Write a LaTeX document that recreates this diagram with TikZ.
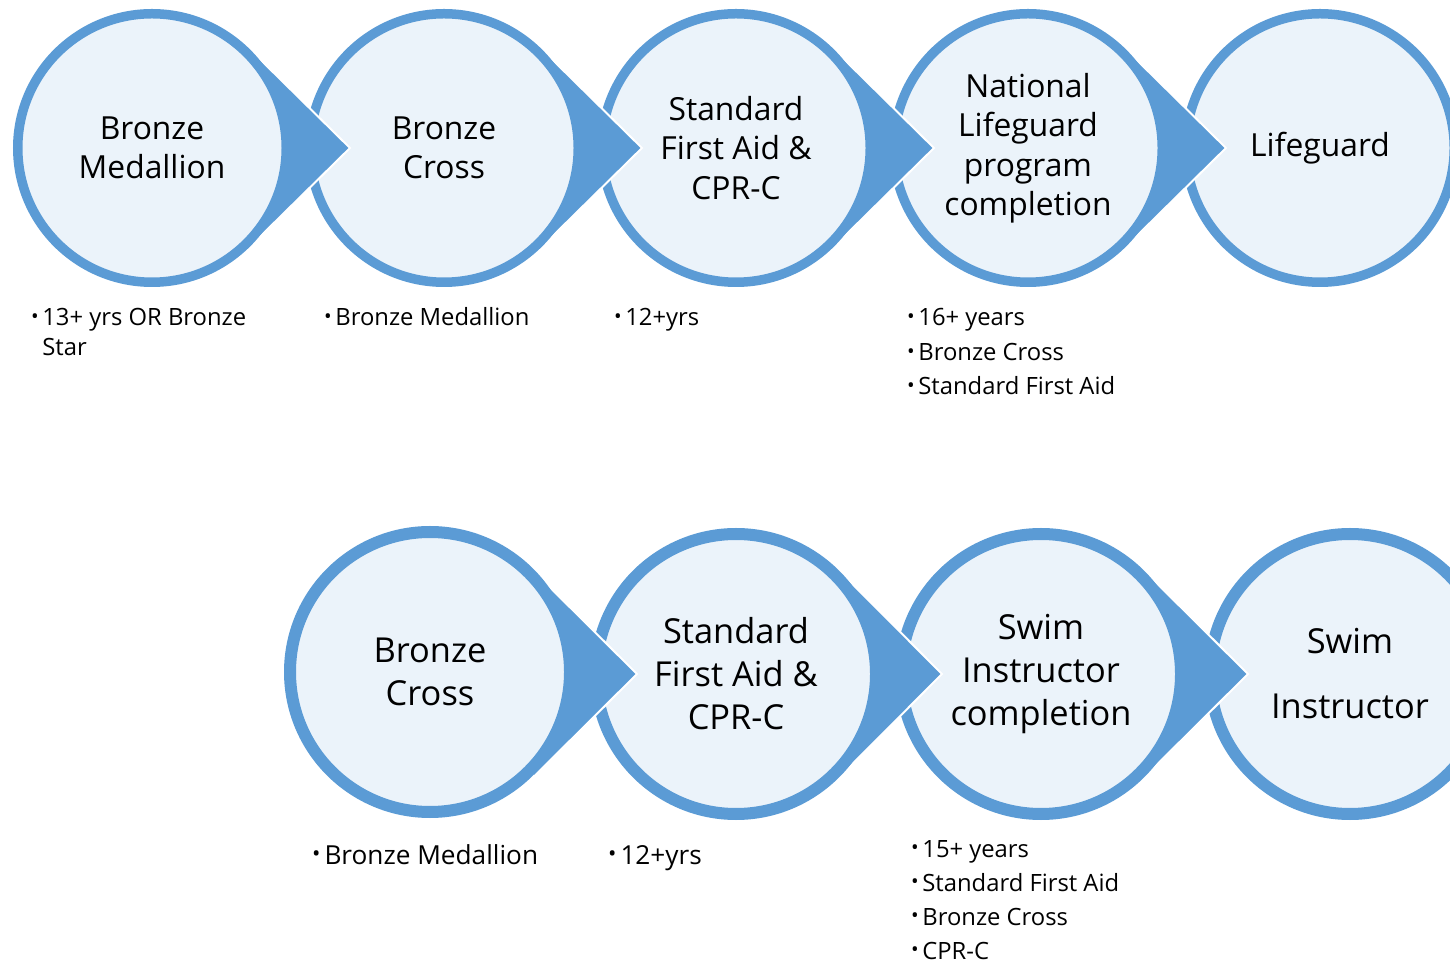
\documentclass[tikz,border=0pt]{standalone}
\usepackage{fontspec}
\setmainfont{Open Sans}
\definecolor{ringblue}{HTML}{5B9BD5}
\definecolor{ringfill}{HTML}{EBF3FA}
\newcommand{\bul}{\raisebox{0.1em}{\scalebox{0.85}{•}}\hspace{0.15em}}
\tikzset{
  ring/.style={circle, draw=ringblue, fill=ringfill, line width=9.5pt,
    minimum size=268.5pt, inner sep=0pt, align=center,
    font=\fontsize{31.8}{39.5}\selectfont},
  bigring/.style={ring, line width=12pt, minimum size=280pt,
    font=\fontsize{34.4}{43}\selectfont},
  point/.style={fill=ringblue, draw=white, line width=2pt},
  item/.style={anchor=base west, inner sep=0pt, font=\fontsize{23.8}{34}\selectfont},
  bigitem/.style={item, font=\fontsize{26.2}{34}\selectfont}
}

\begin{document}
\begin{tikzpicture}[x=1pt,y=1pt]
    \useasboundingbox (0,0) rectangle (1450,964);

    \node[ring](lg) at (1320,816) {Lifeguard};
    \filldraw[point] (1226,816) -- ([shift={(45.4:139)}]1028,816) -- ([shift={(-45.4:139)}]1028,816) -- cycle;
    \node[ring](nl) at (1028,816) {National\\Lifeguard\\program\\completion};
    \filldraw[point] (934,816) -- ([shift={(45.4:139)}]736,816) -- ([shift={(-45.4:139)}]736,816) -- cycle;
    \node[ring](sf) at (736,816) {Standard\\First Aid \&\\CPR-C};
    \filldraw[point] (642,816) -- ([shift={(45.4:139)}]444,816) -- ([shift={(-45.4:139)}]444,816) -- cycle;
    \node[ring](bc) at (444,816) {Bronze\\Cross};
    \filldraw[point] (350,816) -- ([shift={(45.4:139)}]152,816) -- ([shift={(-45.4:139)}]152,816) -- cycle;
    \node[ring](bm) at (152,816) {Bronze\\Medallion};

    \node[item](bm1) at (31,638) {\bul 13+ yrs OR Bronze};
    \node[item](bm2) at (31,608) {\hphantom{\bul}Star};
    \node[item](bc1) at (324,638) {\bul Bronze Medallion};
    \node[item](sf1) at (614,638) {\bul 12+yrs};
    \node[item](nl1) at (907,638) {\bul 16+ years};
    \node[item](nl2) at (907,603) {\bul Bronze Cross};
    \node[item](nl3) at (907,569) {\bul Standard First Aid};

    \node[bigring](si) at (1350,290) {Swim\\[22pt]Instructor};
    \filldraw[point] (1248,290) -- ([shift={(45.2:146)}]1041,290) -- ([shift={(-45.2:146)}]1041,290) -- cycle;
    \node[bigring](sc) at (1041,290) {Swim\\Instructor\\completion};
    \filldraw[point] (942,290) -- ([shift={(45.2:146)}]736,290) -- ([shift={(-45.2:146)}]736,290) -- cycle;
    \node[bigring](sa) at (736,290) {Standard\\First Aid \&\\CPR-C};
    \filldraw[point] (637,290) -- ([shift={(45.2:146)}]430,290) -- ([shift={(-45.2:146)}]430,290) -- cycle;
    \node[bigring](bx) at (430,292) {Bronze\\Cross};

    \node[bigitem](bx1) at (312,100) {\bul Bronze Medallion};
    \node[bigitem](sa1) at (608,100) {\bul 12+yrs};
    \node[item](sc1) at (911,107) {\bul 15+ years};
    \node[item](sc2) at (911,73) {\bul Standard First Aid};
    \node[item](sc3) at (911,39) {\bul Bronze Cross};
    \node[item](sc4) at (911,5) {\bul CPR-C};
\end{tikzpicture}
\end{document}
